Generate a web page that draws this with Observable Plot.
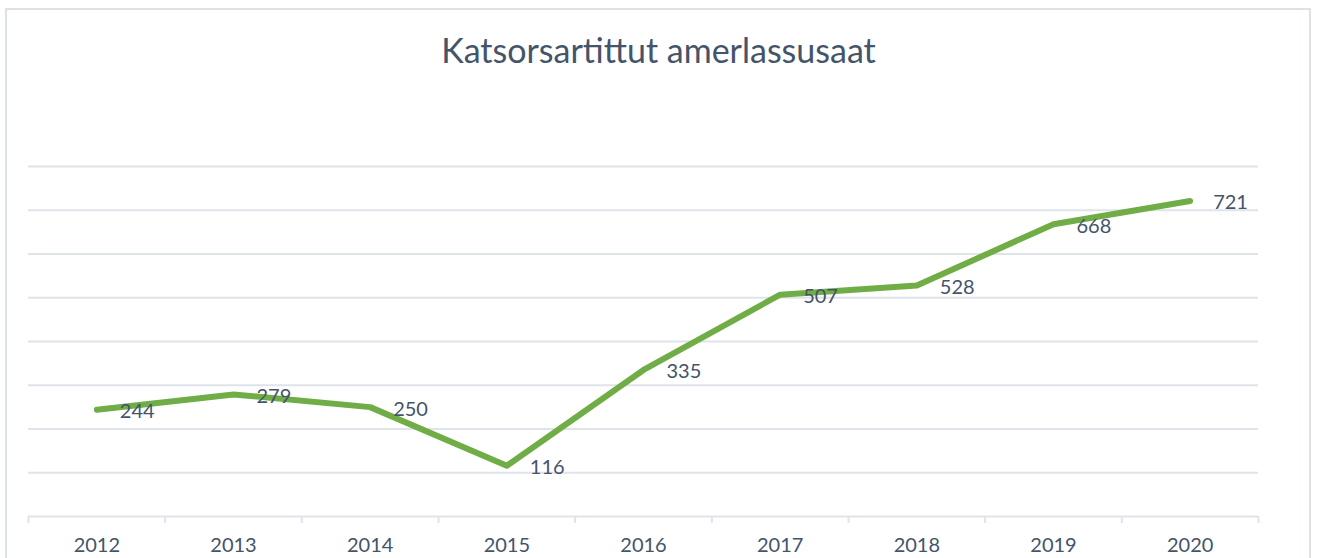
<!DOCTYPE html>
<html>
<head>
<meta charset="utf-8">
<script src="https://cdn.jsdelivr.net/npm/d3@7"></script>
<script src="https://cdn.jsdelivr.net/npm/@observablehq/plot@0.6"></script>
<style>
  html, body { margin: 0; padding: 0; background: #fff; overflow: hidden; }
  #frame { position: absolute; left: 5px; top: 8px; width: 1306px; height: 600px; border: 2px solid #dde2e9; box-sizing: border-box; }
  #title { position: absolute; left: 0; top: 32px; width: 1317px; text-align: center; font-family: Lato, sans-serif; font-size: 34px; color: #44546A; line-height: 36px; }
  #chart { position: absolute; left: 0; top: 110px; }
</style>
</head>
<body>
<div id="frame"></div>
<div id="title">Katsorsartittut amerlassusaat</div>
<div id="chart"></div>
<script>
const years = [2012, 2013, 2014, 2015, 2016, 2017, 2018, 2019, 2020];
const values = [244, 279, 250, 116, 335, 507, 528, 668, 721];
const gridValues = [100, 200, 300, 400, 500, 600, 700, 800];

const data = years.map((y, i) => ({year: y, value: values[i]}));
const edges = years.map(y => y - 0.5).concat([years[years.length - 1] + 0.5]);

const grid = "#dfe3ea";
const textColor = "#44546A";

const plot = Plot.plot({
  width: 1317,
  height: 450,
  marginLeft: 28,
  marginRight: 59,
  marginTop: 56,
  marginBottom: 44,
  style: {fontFamily: "Lato, sans-serif", fontSize: "20px", color: textColor, background: "transparent"},
  x: {type: "linear", domain: [edges[0], edges[edges.length - 1]], label: null},
  y: {domain: [0, 800], axis: null},
  marks: [
    Plot.ruleY(gridValues, {stroke: grid, strokeWidth: 2}),
    Plot.ruleY([0], {stroke: grid, strokeWidth: 2}),
    Plot.axisX({ticks: edges, tickSize: 7, tickFormat: () => "", label: null, stroke: grid, strokeWidth: 2, strokeOpacity: 1}),
    Plot.axisX({ticks: years, tickSize: 0, tickPadding: 21, tickFormat: d => String(d), label: null, fill: textColor, fontSize: 20}),
    Plot.line(data, {x: "year", y: "value", stroke: "#70AD47", strokeWidth: 6, strokeLinecap: "round", strokeLinejoin: "round"}),
    Plot.text(data, {x: "year", y: "value", text: d => String(d.value), dx: 23, dy: 2, textAnchor: "start", fill: textColor, fontSize: 20})
  ]
});
document.getElementById("chart").appendChild(plot);
</script>
</body>
</html>
